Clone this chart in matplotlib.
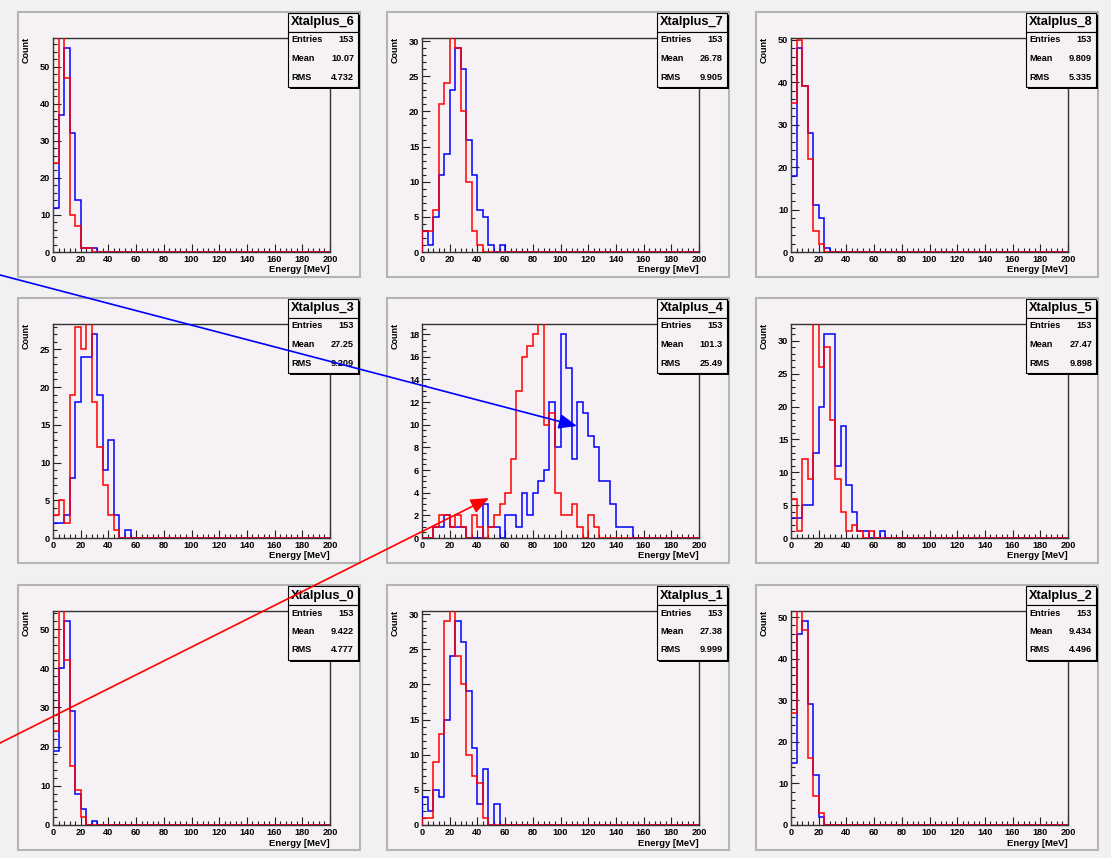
import matplotlib
matplotlib.use("Agg")
import matplotlib.pyplot as plt
import numpy as np
from matplotlib.patches import Rectangle, FancyArrowPatch
from matplotlib.ticker import MultipleLocator

W, H = 1111, 858
plt.rcParams['font.family'] = ['Liberation Sans', 'DejaVu Sans']
plt.rcParams['font.weight'] = 'bold'

edges = np.arange(0, 204, 4)   # 50 bins of 4 MeV

# counts per 4 MeV bin, starting at 0 MeV (remaining bins are empty)
blue_6 = [12, 37, 55, 32, 14, 1, 1, 1]
red_6 = [24, 63, 47, 10, 7, 1, 1]
blue_7 = [3, 1, 5, 11, 14, 23, 29, 26, 16, 11, 6, 5, 1, 0, 1]
red_7 = [3, 3, 6, 21, 24, 33, 29, 20, 10, 3, 1]
blue_8 = [18, 48, 39, 28, 11, 8, 1]
red_8 = [35, 50, 39, 22, 5, 2]
blue_3 = [2, 2, 3, 8, 18, 24, 24, 27, 19, 9, 13, 3, 0, 1]
red_3 = [3, 5, 2, 19, 28, 25, 30, 18, 12, 7, 3, 1]
blue_4 = [0, 0, 1, 1, 2, 1, 1, 1, 0, 0, 0, 3, 1, 1, 0, 2, 2, 1, 4, 2,
          4, 5, 6, 12, 8, 18, 15, 7, 12, 11, 9, 8, 5, 5, 3, 1, 1, 1]
red_4 = [0, 0, 1, 2, 2, 1, 2, 1, 0, 2, 1, 0, 1, 2, 3, 4, 7, 13, 16, 17,
         18, 24, 10, 11, 4, 2, 2, 3, 1, 0, 2, 1]
blue_5 = [3, 3, 5, 5, 13, 20, 31, 31, 11, 17, 8, 4, 1, 1, 0, 0, 1]
red_5 = [6, 1, 12, 9, 34, 26, 29, 18, 9, 4, 1, 2, 1, 0, 1]
blue_0 = [19, 40, 52, 29, 8, 4, 0, 1]
red_0 = [24, 61, 42, 15, 9, 2]
blue_1 = [4, 2, 5, 4, 15, 24, 29, 26, 19, 11, 3, 8, 0, 3]
red_1 = [1, 1, 9, 13, 29, 32, 24, 20, 10, 7, 6, 1]
blue_2 = [15, 46, 49, 29, 12, 2]
red_2 = [27, 53, 47, 16, 7, 3]

names = ["Xtalplus_6", "Xtalplus_7", "Xtalplus_8",
         "Xtalplus_3", "Xtalplus_4", "Xtalplus_5",
         "Xtalplus_0", "Xtalplus_1", "Xtalplus_2"]
entries = [153, 153, 153, 153, 153, 153, 153, 153, 153]
means = ["10.07", "26.78", "9.809", "27.25", "101.3", "27.47", "9.422", "27.38", "9.434"]
rms = ["4.732", "9.905", "5.335", "9.209", "25.49", "9.898", "4.777", "9.999", "4.496"]
blues = [blue_6, blue_7, blue_8, blue_3, blue_4, blue_5, blue_0, blue_1, blue_2]
reds = [red_6, red_7, red_8, red_3, red_4, red_5, red_0, red_1, red_2]
y_major = [10, 5, 10, 5, 2, 5, 10, 5, 10]
y_minor = [2, 1, 2, 1, 0.5, 1, 2, 1, 2]

PAD_X = [18, 387, 756]
PAD_Y = [12, 298, 585]
PAD_W, PAD_H = 342, 265
PAD_COLOR = '#f5f1f5'


def fx(x):
    return x / W


def fy(y):
    return 1 - y / H


def full(counts):
    return np.pad(np.array(counts, dtype=float), (0, 50 - len(counts)))


fig = plt.figure(figsize=(W / 100, H / 100), dpi=100, facecolor='#f1f1f1')

for i in range(9):
    px, py = PAD_X[i % 3], PAD_Y[i // 3]
    # pad background with bevel border
    fig.add_artist(Rectangle((fx(px), fy(py + PAD_H)), PAD_W / W, PAD_H / H,
                             transform=fig.transFigure, facecolor=PAD_COLOR,
                             edgecolor='#b4b4b4', lw=1.5, zorder=0))

    ax = fig.add_axes([fx(px + 35), fy(py + 26 + 214), 277 / W, 214 / H])
    ax.set_facecolor(PAD_COLOR)
    b = full(blues[i])
    r = full(reds[i])
    ax.stairs(b, edges, color='#0000ff', lw=1.1, baseline=0, zorder=3)
    ax.stairs(r, edges, color='#ff0000', lw=1.1, baseline=0, zorder=3.1)
    ax.set_xlim(0, 200)
    ax.set_ylim(0, 1.05 * b.max())

    ax.xaxis.set_major_locator(MultipleLocator(20))
    ax.xaxis.set_minor_locator(MultipleLocator(4))
    ax.yaxis.set_major_locator(MultipleLocator(y_major[i]))
    ax.yaxis.set_minor_locator(MultipleLocator(y_minor[i]))
    ax.tick_params(which='both', direction='in', top=False, right=False,
                   labelsize=6.6, width=0.8, color='#222222', pad=2)
    ax.tick_params(which='major', length=6)
    ax.tick_params(which='minor', length=3)
    for lab in ax.get_xticklabels() + ax.get_yticklabels():
        lab.set_fontweight('bold')
    for s in ax.spines.values():
        s.set_color('#333333')
        s.set_linewidth(1.0)

    fig.text(fx(px + 8), fy(py + 25), "Count", rotation=90, ha='center',
             va='top', fontsize=6.5, fontweight='bold')
    fig.text(fx(px + 35 + 277), fy(py + 26 + 214 + 18), "Energy [MeV]",
             ha='right', va='center', fontsize=6.8, fontweight='bold')

    # title box + stats box
    bx0, bx1 = px + 270, px + 340
    for (y0, y1) in [(py + 1, py + 20), (py + 20, py + 75)]:
        fig.add_artist(Rectangle((fx(bx0 + 2), fy(y1 + 2)), (bx1 - bx0) / W,
                                 (y1 - y0) / H, transform=fig.transFigure,
                                 facecolor='black', edgecolor='none', zorder=5))
        fig.add_artist(Rectangle((fx(bx0), fy(y1)), (bx1 - bx0) / W,
                                 (y1 - y0) / H, transform=fig.transFigure,
                                 facecolor=PAD_COLOR, edgecolor='black',
                                 lw=0.8, zorder=5.1))
    fig.text(fx((bx0 + bx1) / 2), fy(py + 10.5), names[i], ha='center',
             va='center', fontsize=9.2, fontweight='bold', zorder=6)
    rows = [("Entries", str(entries[i])), ("Mean", means[i]), ("RMS", rms[i])]
    for k, (lab, val) in enumerate(rows):
        yy = py + 28 + 18.5 * k
        fig.text(fx(bx0 + 3), fy(yy), lab, ha='left', va='center',
                 fontsize=6.6, fontweight='bold', zorder=6)
        fig.text(fx(bx1 - 4), fy(yy), val, ha='right', va='center',
                 fontsize=6.6, fontweight='bold', zorder=6)

# arrows across the canvas
arrow_kw = dict(transform=fig.transFigure, arrowstyle='-|>,head_length=1.1,head_width=0.45',
                mutation_scale=10, lw=1.2, shrinkA=0, shrinkB=0, zorder=10)
fig.add_artist(FancyArrowPatch((fx(0), fy(275)), (fx(577), fy(426)),
                               color='#0000ff', **arrow_kw))
fig.add_artist(FancyArrowPatch((fx(0), fy(743)), (fx(489), fy(498)),
                               color='#ff0000', **arrow_kw))

fig.savefig("out.png", dpi=100, facecolor=fig.get_facecolor())
